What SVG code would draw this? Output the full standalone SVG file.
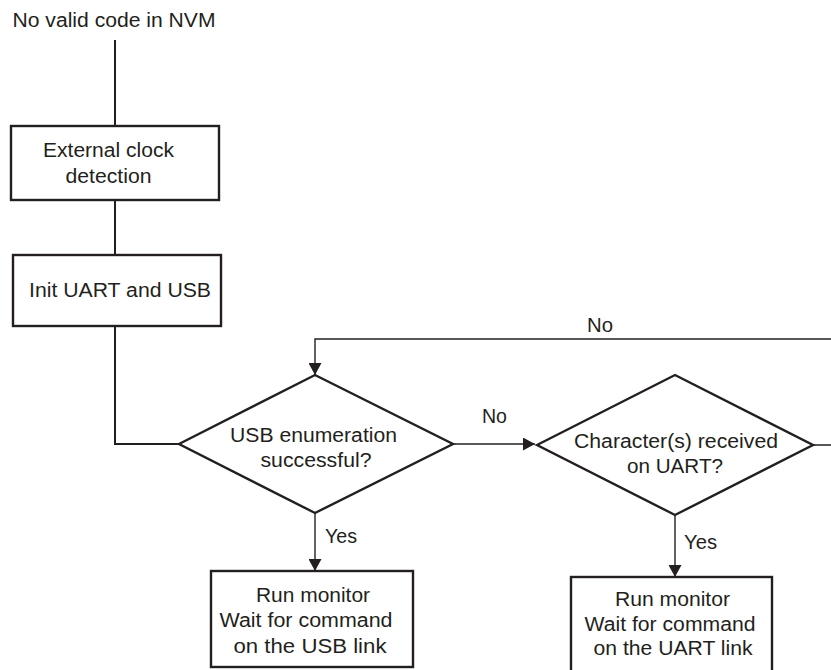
<svg xmlns="http://www.w3.org/2000/svg" width="831" height="670" viewBox="0 0 831 670">
<defs>
<style>
.box{fill:#fff;stroke:#231f20;stroke-width:2.4}
.t{font-family:"Liberation Sans",Arial,sans-serif;font-size:20px;fill:#231f20;text-anchor:middle}
.ts{font-family:"Liberation Sans",Arial,sans-serif;font-size:20px;fill:#231f20;text-anchor:start}
.c{fill:none;stroke:#231f20;stroke-width:1.4}
.cw{fill:none;stroke:#231f20;stroke-width:2}
</style>
<marker id="arr" markerUnits="userSpaceOnUse" markerWidth="13" markerHeight="13" refX="12" refY="6.5" orient="auto">
<path d="M0,0 L12,6.5 L0,13 z" fill="#231f20"/>
</marker>
</defs>
<rect width="831" height="670" fill="#fff"/>
<g id="connectors">
<path class="cw" d="M115,40 V126"/>
<path class="cw" d="M115,200 V255"/>
<path class="cw" d="M115,326 V444 H179"/>
<path class="c" d="M453,444 H535" marker-end="url(#arr)"/>
<path class="c" d="M813,445 H850 V339 H315 V375" marker-end="url(#arr)"/>
<path class="c" d="M315,513 V571" marker-end="url(#arr)"/>
<path class="c" d="M675,515 V577" marker-end="url(#arr)"/>
<text class="ts" x="482" y="423" textLength="25" lengthAdjust="spacingAndGlyphs">No</text>
<text class="ts" x="587" y="332" textLength="26" lengthAdjust="spacingAndGlyphs">No</text>
<text class="ts" x="325" y="543" textLength="32" lengthAdjust="spacingAndGlyphs">Yes</text>
<text class="ts" x="684" y="549" textLength="33" lengthAdjust="spacingAndGlyphs">Yes</text>
</g>
<g id="start">
<text class="ts" x="12.5" y="27" textLength="203" lengthAdjust="spacingAndGlyphs">No valid code in NVM</text>
</g>
<g id="clock">
<rect class="box" x="11" y="126" width="208" height="74"/>
<text class="t" x="108.5" y="157" textLength="131" lengthAdjust="spacingAndGlyphs">External clock</text>
<text class="t" x="108.5" y="183" textLength="86" lengthAdjust="spacingAndGlyphs">detection</text>
</g>
<g id="init">
<rect class="box" x="13" y="255" width="208" height="71"/>
<text class="t" x="120" y="297" textLength="182" lengthAdjust="spacingAndGlyphs">Init UART and USB</text>
</g>
<g id="usb-enum">
<polygon class="box" points="179,444 315,375 453,444 315,513"/>
<text class="t" x="313.5" y="442" textLength="167" lengthAdjust="spacingAndGlyphs">USB enumeration</text>
<text class="t" x="316" y="467" textLength="111" lengthAdjust="spacingAndGlyphs">successful?</text>
</g>
<g id="uart-char">
<polygon class="box" points="537,445 675,375 813,445 675,515"/>
<text class="t" x="676" y="448" textLength="204" lengthAdjust="spacingAndGlyphs">Character(s) received</text>
<text class="t" x="675" y="473" textLength="96" lengthAdjust="spacingAndGlyphs">on UART?</text>
</g>
<g id="usb-monitor">
<rect class="box" x="211" y="571" width="202" height="96"/>
<text class="t" x="313" y="602" textLength="114" lengthAdjust="spacingAndGlyphs">Run monitor</text>
<text class="t" x="306" y="627" textLength="173" lengthAdjust="spacingAndGlyphs">Wait for command</text>
<text class="t" x="310" y="653" textLength="153" lengthAdjust="spacingAndGlyphs">on the USB link</text>
</g>
<g id="uart-monitor">
<rect class="box" x="571" y="577" width="201" height="100"/>
<text class="t" x="672.5" y="606" textLength="115" lengthAdjust="spacingAndGlyphs">Run monitor</text>
<text class="t" x="670" y="631" textLength="171" lengthAdjust="spacingAndGlyphs">Wait for command</text>
<text class="t" x="673" y="655" textLength="159" lengthAdjust="spacingAndGlyphs">on the UART link</text>
</g>
</svg>
